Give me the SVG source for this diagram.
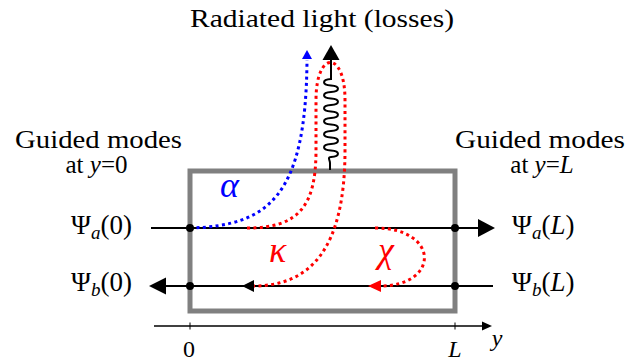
<svg xmlns="http://www.w3.org/2000/svg" width="628" height="361" viewBox="0 0 628 361">
<style>
.dot{fill:none;stroke-width:3;stroke-dasharray:3 3.4}
.blk{fill:#000;stroke:none}
</style>
<rect width="628" height="361" fill="#fff"/>
<g id="waveguide">
<rect x="190" y="171" width="265" height="140" fill="none" stroke="#808080" stroke-width="5"/>
</g>
<g id="modes" stroke="#000" stroke-width="2">
<g id="psi-a">
<line x1="151" y1="228" x2="480" y2="228"/>
<polygon class="blk" points="495,228 478,219 478,237"/>
</g>
<g id="psi-b">
<line x1="163" y1="286" x2="493" y2="286"/>
<polygon class="blk" points="149,286 166,277.5 166,294.5"/>
</g>
</g>
<g id="connectors">
<path id="alpha-path" class="dot" stroke="#00f" d="M190,228 C270,226 306,195 307,60"/>
<polygon fill="#00f" points="307,50 302,59 312,59"/>
<path id="kappa-path" class="dot" stroke="#f00" d="M247,228 C300,228 316,205 316,150 L316,100 C316,50 345,50 345,100 L345,150 C345,250 310,286 253,286"/>
<polygon class="blk" points="242,286 254,280 254,292"/>
<path id="chi-path" class="dot" stroke="#f00" d="M375,228 C440,228 440,286 380,286"/>
<polygon fill="#f00" points="368,286 381,280 381,292"/>
<path id="radiation" fill="none" stroke="#000" stroke-width="2" d="M331,58 L331,79 c-9.3,0.7 -9.3,5.8 0,6.5 s9.3,5.8 0,6.5 s-9.3,5.8 0,6.5 s9.3,5.8 0,6.5 s-9.3,5.8 0,6.5 s9.3,5.8 0,6.5 s-9.3,5.8 0,6.5 s9.3,5.8 0,6.5 s-9.3,5.8 0,6.5 s9.3,5.8 0,6.5 s-9.3,5.8 0,6.5 s9.3,5.8 0,6.5 c-4,0.3 -1,3 -1,6 L330,170"/>
<polygon class="blk" points="331,45 322.5,60 339.5,60"/>
</g>
<g id="ports" fill="#000">
<circle cx="190" cy="228" r="4"/>
<circle cx="455" cy="228" r="4"/>
<circle cx="190" cy="286" r="4"/>
<circle cx="455" cy="286" r="4"/>
</g>
<g id="axis">
<line x1="154" y1="326" x2="484" y2="326" stroke="#000" stroke-width="1.6"/>
<polygon class="blk" points="492,326 482,321.5 482,330.5"/>
<line x1="190" y1="322.5" x2="190" y2="329.5" stroke="#000" stroke-width="1"/>
<line x1="455" y1="322.5" x2="455" y2="329.5" stroke="#000" stroke-width="1"/>
</g>
<g id="labels" font-family="'Liberation Serif','Times New Roman',serif">
<text x="189" y="357" font-size="24" font-family="Liberation Serif" text-anchor="middle">0</text>
<text x="455" y="357" font-size="24" font-family="Liberation Serif" font-style="italic" text-anchor="middle">L</text>
<text x="497" y="346" font-size="24" font-family="Liberation Serif" font-style="italic" text-anchor="middle">y</text>
<text x="190" y="27" font-size="25" font-family="Liberation Serif" textLength="264" lengthAdjust="spacingAndGlyphs">Radiated light (losses)</text>
<text x="15" y="148" font-size="25" font-family="Liberation Serif" textLength="167" lengthAdjust="spacingAndGlyphs">Guided modes</text>
<text x="96.5" y="173" font-size="25" font-family="Liberation Serif" text-anchor="middle">at <tspan font-style="italic">y</tspan>=0</text>
<text x="455" y="148" font-size="25" font-family="Liberation Serif" textLength="170" lengthAdjust="spacingAndGlyphs">Guided modes</text>
<text x="542" y="173" font-size="25" font-family="Liberation Serif" text-anchor="middle">at <tspan font-style="italic">y</tspan>=<tspan font-style="italic">L</tspan></text>
<text x="132" y="234" font-size="27" font-family="Liberation Serif" text-anchor="end">Ψ<tspan font-style="italic" font-size="19" dy="5">a</tspan><tspan dy="-5">(0)</tspan></text>
<text x="132" y="291" font-size="27" font-family="Liberation Serif" text-anchor="end">Ψ<tspan font-style="italic" font-size="19" dy="5">b</tspan><tspan dy="-5">(0)</tspan></text>
<text x="512" y="234" font-size="27" font-family="Liberation Serif">Ψ<tspan font-style="italic" font-size="19" dy="5">a</tspan><tspan dy="-5">(<tspan font-style="italic">L</tspan>)</tspan></text>
<text x="512" y="291" font-size="27" font-family="Liberation Serif">Ψ<tspan font-style="italic" font-size="19" dy="5">b</tspan><tspan dy="-5">(<tspan font-style="italic">L</tspan>)</tspan></text>
<text x="220" y="197" font-size="36" font-family="Liberation Serif" font-style="italic" fill="#00f">α</text>
<text x="269" y="262" font-size="36" font-family="Liberation Serif" font-style="italic" fill="#f00">κ</text>
<text x="378" y="262" font-size="36" font-family="Liberation Serif" font-style="italic" fill="#f00">χ</text>
</g>
</svg>
